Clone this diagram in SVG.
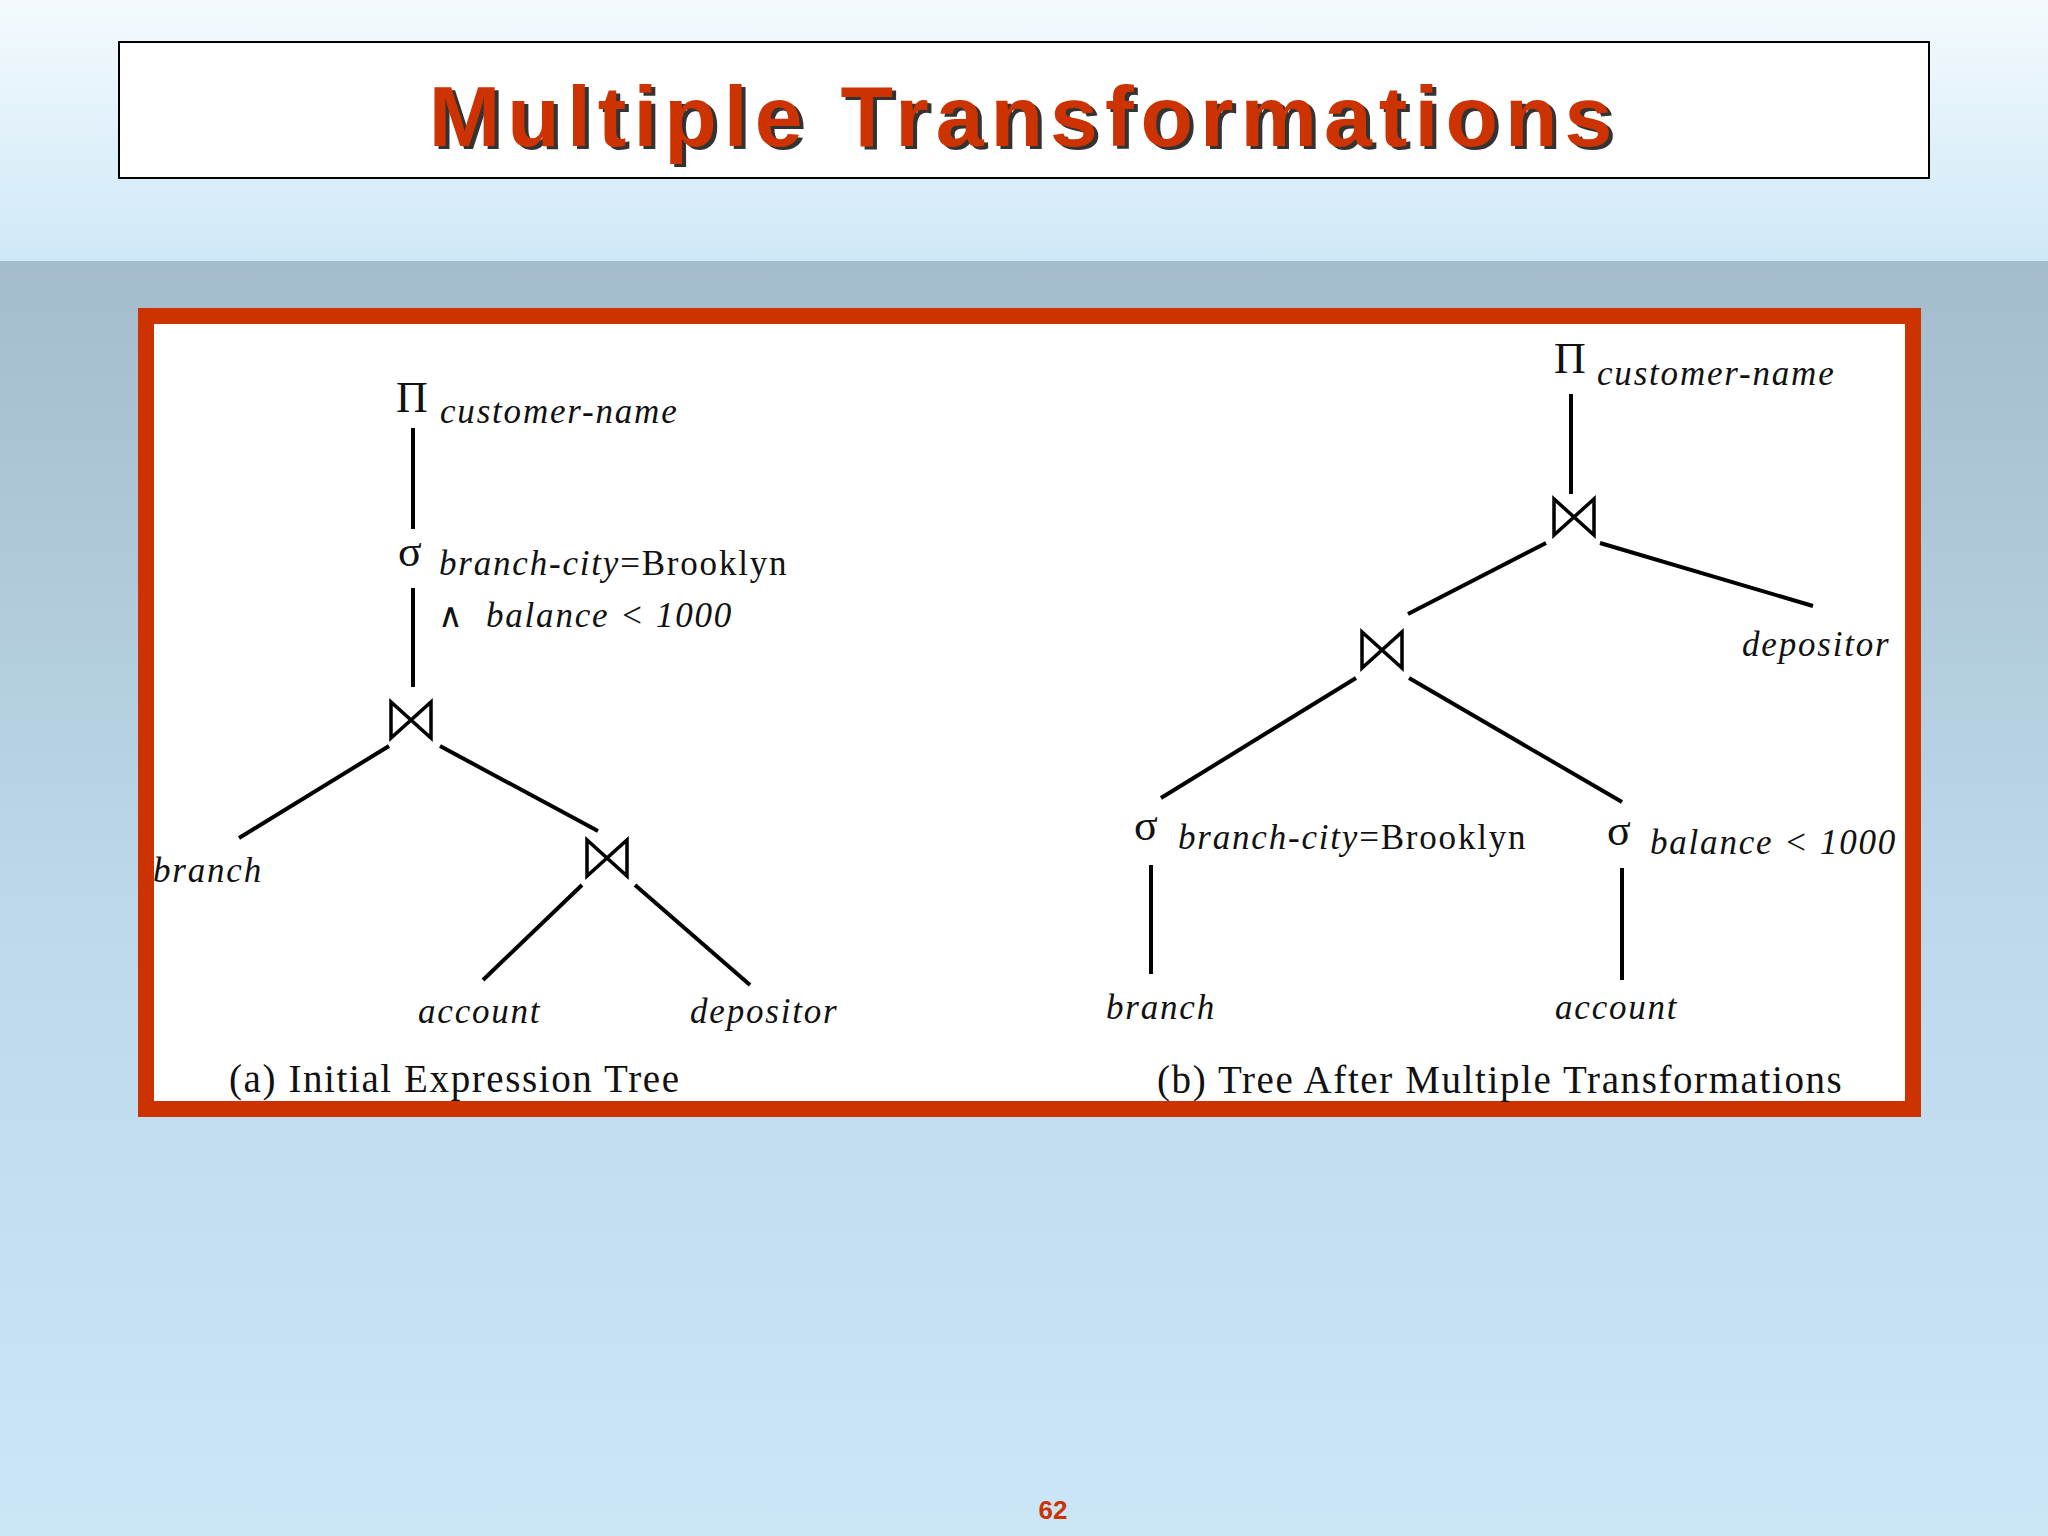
<svg xmlns="http://www.w3.org/2000/svg" width="2048" height="1536" viewBox="0 0 2048 1536">
<defs>
<linearGradient id="top" x1="0" y1="0" x2="0" y2="1"><stop offset="0" stop-color="#f4fafd"/><stop offset="1" stop-color="#cfe8f7"/></linearGradient>
<linearGradient id="bot" x1="0" y1="0" x2="0" y2="1"><stop offset="0" stop-color="#a4bccb"/><stop offset="0.5" stop-color="#bcd8ea"/><stop offset="1" stop-color="#cbe6f7"/></linearGradient>
<path id="bt" d="M-20,-18 L-20,18 L20,-18 L20,18 Z" fill="none" stroke="#000" stroke-width="3.5" stroke-linejoin="miter"/>
</defs>
<style>
.l{stroke:#000;stroke-width:4;fill:none}
.i{font-family:"Liberation Serif",serif;font-style:italic;font-size:35px;letter-spacing:1.8px;fill:#111}
.r{font-family:"Liberation Serif",serif;font-size:34px;fill:#111}
.s{font-family:"Liberation Serif","DejaVu Serif",serif;font-size:44px;fill:#111}
.c{font-family:"Liberation Serif",serif;font-size:39px;letter-spacing:1.6px;fill:#111}
.t{font-family:"Liberation Sans",Arial,sans-serif;font-weight:bold;font-size:86px;letter-spacing:7px}
</style>
<rect width="2048" height="261" fill="url(#top)"/>
<rect y="261" width="2048" height="1275" fill="url(#bot)"/>
<g id="title">
<rect x="119" y="42" width="1810" height="136" fill="#fff" stroke="#000" stroke-width="2"/>
<text class="t" x="1028" y="149" text-anchor="middle" fill="#333">Multiple Transformations</text>
<text class="t" x="1024" y="146" text-anchor="middle" fill="#cc3300">Multiple Transformations</text>
</g>
<rect x="146" y="316" width="1767" height="793" fill="#fff" stroke="#cc3300" stroke-width="16"/>
<g id="connectors">
<line class="l" x1="413" y1="428" x2="413" y2="529"/>
<line class="l" x1="413" y1="588" x2="413" y2="687"/>
<line class="l" x1="389" y1="746" x2="239" y2="838"/>
<line class="l" x1="440" y1="746" x2="598" y2="831"/>
<line class="l" x1="582" y1="885" x2="483" y2="980"/>
<line class="l" x1="635" y1="885" x2="750" y2="985"/>
<line class="l" x1="1571" y1="394" x2="1571" y2="494"/>
<line class="l" x1="1546" y1="543" x2="1408" y2="614"/>
<line class="l" x1="1600" y1="543" x2="1813" y2="606"/>
<line class="l" x1="1356" y1="678" x2="1161" y2="798"/>
<line class="l" x1="1409" y1="678" x2="1622" y2="802"/>
<line class="l" x1="1151" y1="865" x2="1151" y2="974"/>
<line class="l" x1="1622" y1="868" x2="1622" y2="980"/>
</g>
<g id="a-proj"><text class="s" x="396" y="412">Π</text><text class="i" x="440" y="423">customer-name</text></g>
<g id="a-sel"><text class="s" x="398" y="566">σ</text><text class="i" x="439" y="575">branch-city<tspan font-style="normal">=Brooklyn</tspan></text><text class="r" x="438" y="627">∧</text><text class="i" x="486" y="627">balance &lt; 1000</text></g>
<g id="a-join1"><use href="#bt" x="411" y="720"/></g>
<g id="a-branch"><text class="i" x="153" y="882">branch</text></g>
<g id="a-join2"><use href="#bt" x="607" y="858"/></g>
<g id="a-account"><text class="i" x="418" y="1023">account</text></g>
<g id="a-depositor"><text class="i" x="690" y="1023">depositor</text></g>
<text class="c" x="229" y="1092">(a) Initial Expression Tree</text>
<g id="b-proj"><text class="s" x="1554" y="373">Π</text><text class="i" x="1597" y="385">customer-name</text></g>
<g id="b-join1"><use href="#bt" x="1574" y="517"/></g>
<g id="b-depositor"><text class="i" x="1742" y="656">depositor</text></g>
<g id="b-join2"><use href="#bt" x="1382" y="650"/></g>
<g id="b-sel1"><text class="s" x="1134" y="840">σ</text><text class="i" x="1178" y="849">branch-city<tspan font-style="normal">=Brooklyn</tspan></text></g>
<g id="b-sel2"><text class="s" x="1607" y="845">σ</text><text class="i" x="1650" y="854">balance &lt; 1000</text></g>
<g id="b-branch"><text class="i" x="1106" y="1019">branch</text></g>
<g id="b-account"><text class="i" x="1555" y="1019">account</text></g>
<text class="c" x="1157" y="1093">(b) Tree After Multiple Transformations</text>
<text x="1053" y="1519" text-anchor="middle" font-family="Liberation Sans,Arial,sans-serif" font-weight="bold" font-size="26" fill="#cc3300">62</text>
</svg>
